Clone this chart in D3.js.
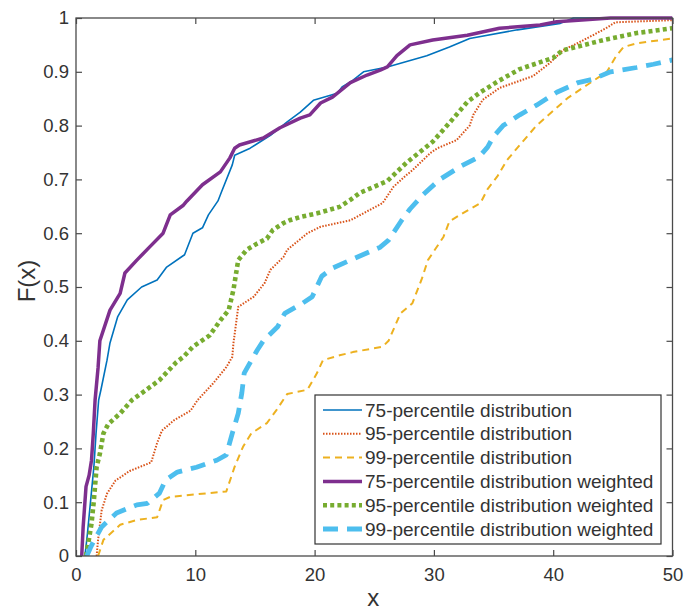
<!DOCTYPE html>
<html>
<head>
<meta charset="utf-8">
<script src="https://cdn.jsdelivr.net/npm/d3@7"></script>
<style>
  html, body { margin: 0; padding: 0; background: #fff; }
  svg { display: block; }
  text { font-family: "Liberation Sans", Arial, Helvetica, sans-serif; fill: #333; }
</style>
</head>
<body>
<svg id="chart" width="699" height="613"></svg>
<script>
// Empirical CDFs F(x), one [x, F] pair per vertex
const p75 = [[0.75,0],[0.95,0.04],[1.23,0.104],[1.5,0.166],[1.68,0.228],[1.9,0.29],[2.1,0.31],[2.6,0.364],[2.85,0.396],[3.5,0.445],[4.3,0.476],[5.5,0.50],[6.8,0.513],[7.6,0.537],[9.1,0.56],[9.8,0.60],[10.6,0.61],[11.1,0.634],[11.9,0.66],[12.2,0.677],[13.1,0.727],[13.3,0.745],[14.6,0.758],[16.3,0.782],[17.7,0.807],[18.8,0.825],[19.9,0.847],[21.9,0.86],[22.3,0.872],[23.2,0.884],[24.1,0.90],[26.1,0.909],[29.4,0.93],[31.3,0.946],[33.0,0.962],[37.0,0.978],[40.6,0.99],[41.7,1.0],[50,1.0]];
const p95 = [[1.73,0],[1.85,0.03],[2.15,0.085],[2.6,0.116],[3.3,0.14],[4.5,0.158],[6.3,0.174],[6.8,0.21],[7.2,0.233],[8.2,0.252],[9.6,0.27],[10.2,0.29],[11.5,0.321],[12.6,0.351],[13.1,0.37],[13.2,0.396],[13.6,0.463],[14.9,0.482],[15.8,0.507],[16.3,0.532],[17.4,0.556],[17.7,0.569],[19.4,0.60],[20.5,0.612],[23.0,0.624],[24.6,0.643],[25.7,0.656],[26.6,0.686],[27.7,0.708],[28.2,0.717],[29.7,0.749],[30.3,0.758],[31.9,0.773],[33.0,0.80],[33.3,0.82],[34.1,0.848],[35.5,0.87],[38.3,0.892],[39.7,0.916],[40.8,0.94],[42.2,0.955],[43.5,0.97],[44.5,0.982],[45.2,0.992],[50,0.996]];
const p99 = [[1.85,0],[2.3,0.03],[3.7,0.058],[5.1,0.067],[6.8,0.072],[7.3,0.104],[7.9,0.11],[12.6,0.12],[13.3,0.166],[14.0,0.203],[14.7,0.228],[16.0,0.247],[16.8,0.271],[17.7,0.301],[19.4,0.309],[20.2,0.34],[20.7,0.364],[22.1,0.373],[23.2,0.379],[25.7,0.389],[26.2,0.40],[27.2,0.451],[28.2,0.47],[29.0,0.516],[29.5,0.55],[30.8,0.593],[31.3,0.622],[32.4,0.637],[33.9,0.656],[34.5,0.682],[35.3,0.705],[36.1,0.735],[37.2,0.764],[38.6,0.80],[41.2,0.851],[42.8,0.875],[44.5,0.90],[45.3,0.93],[45.9,0.946],[47.0,0.953],[50,0.962]];
const p75w = [[0.48,0],[0.6,0.054],[0.84,0.129],[1.1,0.15],[1.3,0.178],[1.45,0.228],[1.6,0.29],[1.85,0.35],[2.0,0.40],[2.85,0.457],[3.7,0.488],[4.1,0.526],[5.1,0.55],[6.2,0.575],[7.3,0.60],[7.9,0.634],[9.0,0.652],[9.3,0.66],[10.6,0.69],[12.1,0.714],[12.9,0.74],[13.3,0.758],[13.7,0.764],[15.7,0.777],[17.1,0.796],[18.8,0.814],[19.6,0.82],[20.5,0.842],[21.5,0.853],[23.0,0.88],[24.4,0.894],[25.5,0.903],[26.1,0.909],[26.9,0.93],[28.0,0.95],[29.9,0.959],[32.8,0.968],[35.5,0.981],[38.9,0.987],[40.3,0.993],[44.8,1.0],[50,1.0]];
const p95w = [[0.84,0],[1.0,0.02],[1.3,0.06],[1.5,0.104],[1.73,0.166],[2.0,0.19],[2.3,0.228],[2.7,0.245],[3.7,0.265],[4.7,0.29],[5.9,0.309],[7.0,0.327],[8.4,0.36],[9.0,0.37],[9.8,0.389],[11.2,0.41],[12.1,0.438],[12.8,0.457],[13.2,0.495],[13.6,0.55],[14.3,0.569],[15.2,0.581],[16.0,0.59],[16.5,0.606],[17.4,0.619],[17.9,0.624],[18.8,0.63],[20.2,0.637],[20.7,0.64],[22.1,0.649],[23.0,0.662],[23.8,0.675],[26.1,0.697],[27.7,0.731],[29.9,0.77],[31.3,0.805],[32.8,0.844],[33.9,0.862],[35.5,0.884],[37.2,0.905],[40.0,0.926],[40.8,0.94],[44.2,0.959],[47.0,0.972],[50,0.981]];
const p99w = [[0.9,0],[1.2,0.015],[1.45,0.026],[2.15,0.054],[3.4,0.08],[5.1,0.095],[6.0,0.098],[7.0,0.117],[7.5,0.141],[8.5,0.156],[10.1,0.165],[11.8,0.178],[12.6,0.188],[13.1,0.228],[13.6,0.265],[13.9,0.303],[14.1,0.34],[15.2,0.383],[15.7,0.40],[16.9,0.426],[17.5,0.451],[19.0,0.47],[19.8,0.482],[20.6,0.52],[21.5,0.535],[23.0,0.55],[25.5,0.574],[26.2,0.587],[27.3,0.624],[28.0,0.645],[29.1,0.672],[30.5,0.70],[32.3,0.725],[33.8,0.742],[34.5,0.76],[35.0,0.78],[35.8,0.80],[37.2,0.82],[38.6,0.838],[40.3,0.862],[42.1,0.88],[43.3,0.886],[44.8,0.90],[47.0,0.908],[48.4,0.914],[50,0.922]];

const seriesNames = [
  "75-percentile distribution",
  "95-percentile distribution",
  "99-percentile distribution",
  "75-percentile distribution weighted",
  "95-percentile distribution weighted",
  "99-percentile distribution weighted"
];
const seriesData = [p75, p95, p99, p75w, p95w, p99w];

const xTicks = [0, 10, 20, 30, 40, 50];
const yTicks = [0, 0.1, 0.2, 0.3, 0.4, 0.5, 0.6, 0.7, 0.8, 0.9, 1];
const xLabel = "x";
const yLabel = "F(x)";

// line styles per series (MATLAB default palette)
const styles = [
  { color: "#0072BD", width: 1.6, dash: null },
  { color: "#D95319", width: 2.0, dash: "1.5,1.5" },
  { color: "#EDB120", width: 2.0, dash: "7,5" },
  { color: "#7E2F8E", width: 3.5, dash: null },
  { color: "#77AC30", width: 4.6, dash: "4,3.2" },
  { color: "#4DBEEE", width: 4.8, dash: "15,9" }
];

const svg = d3.select("#chart");
const plotLeft = 76, plotRight = 672.5, plotTop = 18, plotBottom = 556;

const x = d3.scaleLinear().domain([0, 50]).range([plotLeft, plotRight]);
const y = d3.scaleLinear().domain([0, 1]).range([plotBottom, plotTop]);

svg.append("defs").append("clipPath").attr("id", "plotclip")
  .append("rect").attr("x", plotLeft).attr("y", plotTop - 3)
  .attr("width", plotRight - plotLeft).attr("height", plotBottom - plotTop + 3);

const axisColor = "#4a4a4a";
const fontSize = 18.5;

// bottom axis (ticks inward) and matching top ticks
const xAxis = d3.axisBottom(x).tickValues(xTicks).tickSize(-6).tickPadding(12)
  .tickFormat(d3.format("d"));
const gx = svg.append("g").attr("transform", `translate(0,${plotBottom})`).call(xAxis);
const xTop = svg.append("g").attr("transform", `translate(0,${plotTop})`)
  .call(d3.axisTop(x).tickValues(xTicks).tickSize(-6).tickFormat(""));

const yAxis = d3.axisLeft(y).tickValues(yTicks).tickSize(-6).tickPadding(7)
  .tickFormat(d => d === 0 || d === 1 ? String(d) : d3.format(".1f")(d));
const gy = svg.append("g").attr("transform", `translate(${plotLeft},0)`).call(yAxis);
const yRight = svg.append("g").attr("transform", `translate(${plotRight},0)`)
  .call(d3.axisRight(y).tickValues(yTicks).tickSize(-6).tickFormat(""));

[gx, xTop, gy, yRight].forEach(g => {
  g.select(".domain").remove();
  g.selectAll(".tick line").attr("stroke", axisColor).attr("stroke-width", 1.2);
  g.selectAll(".tick text").attr("font-size", fontSize).attr("fill", "#3a3a3a")
    .attr("font-family", "'Liberation Sans', Arial, sans-serif");
});

// series lines
const line = d3.line().x(d => x(d[0])).y(d => y(d[1]));
const plot = svg.append("g").attr("clip-path", "url(#plotclip)");
seriesData.forEach((data, i) => {
  const s = styles[i];
  plot.append("path")
    .datum(data)
    .attr("d", line)
    .attr("fill", "none")
    .attr("stroke", s.color)
    .attr("stroke-width", s.width)
    .attr("stroke-linejoin", "round")
    .attr("stroke-dasharray", s.dash);
});

// axes box
svg.append("rect")
  .attr("x", plotLeft).attr("y", plotTop)
  .attr("width", plotRight - plotLeft).attr("height", plotBottom - plotTop)
  .attr("fill", "none").attr("stroke", axisColor).attr("stroke-width", 1.3);

// axis titles
svg.append("text")
  .attr("x", (plotLeft + plotRight) / 2 - 1).attr("y", 606)
  .attr("text-anchor", "middle").attr("font-size", 24).attr("fill", "#222")
  .text(xLabel);
svg.append("text")
  .attr("transform", `translate(35,${(plotTop + plotBottom) / 2 - 6}) rotate(-90)`)
  .attr("text-anchor", "middle").attr("font-size", 24).attr("fill", "#222")
  .text(yLabel);

// legend
const lg = svg.append("g");
lg.append("rect")
  .attr("x", 315).attr("y", 395).attr("width", 346).attr("height", 149)
  .attr("fill", "#fff").attr("stroke", "#333").attr("stroke-width", 1.2);
const rowY = d3.scaleLinear().domain([0, 5]).range([410, 529]);
seriesNames.forEach((name, i) => {
  const s = styles[i];
  const yy = rowY(i);
  lg.append("line")
    .attr("x1", 323).attr("x2", 362).attr("y1", yy).attr("y2", yy)
    .attr("stroke", s.color).attr("stroke-width", s.width)
    .attr("stroke-dasharray", s.dash);
  lg.append("text")
    .attr("x", 365).attr("y", yy).attr("dy", "0.35em")
    .attr("font-size", 19).attr("fill", "#222")
    .text(name);
});
</script>
</body>
</html>
